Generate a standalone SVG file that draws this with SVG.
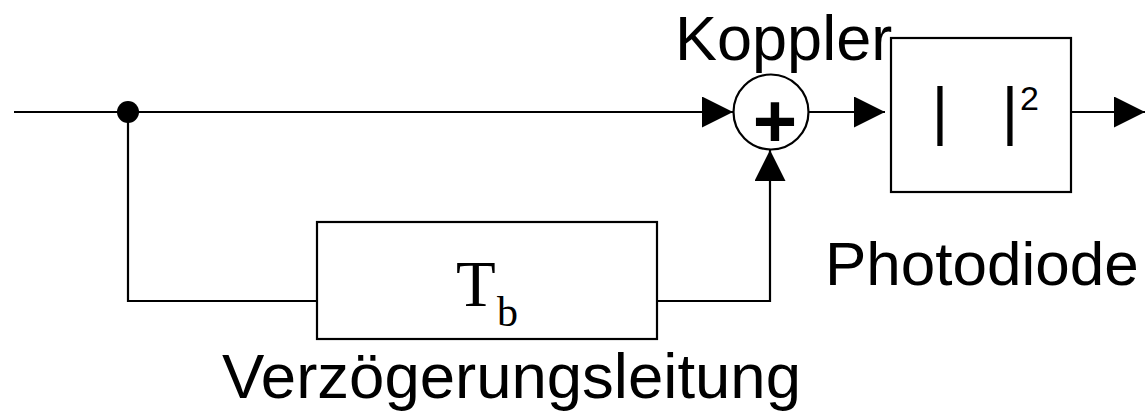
<svg xmlns="http://www.w3.org/2000/svg" width="1146" height="413" viewBox="0 0 1146 413">
  <style>
    .ln { stroke: #000; stroke-width: 2.2; fill: none; }
    .box { stroke: #000; stroke-width: 2.2; fill: #fff; }
    .lbl { font-family: "Liberation Sans", Arial, sans-serif; font-size: 63px; fill: #000; }
    .ser { font-family: "Liberation Serif", "Times New Roman", serif; fill: #000; }
  </style>
  <defs>
    <marker id="arr" markerUnits="userSpaceOnUse" markerWidth="31" markerHeight="31" viewBox="0 0 31 31" refX="31" refY="15.5" orient="auto">
      <path d="M0,0 L31,15.5 L0,31 Z" fill="#000"/>
    </marker>
  </defs>

  <g id="connectors">
    <line class="ln" x1="14" y1="112" x2="733" y2="112" marker-end="url(#arr)"/>
    <polyline class="ln" points="128,112 128,301 317,301"/>
    <polyline class="ln" points="657,301 770,301 770,150" marker-end="url(#arr)"/>
    <line class="ln" x1="808" y1="112" x2="885" y2="112" marker-end="url(#arr)"/>
    <line class="ln" x1="1071" y1="112" x2="1145" y2="112" marker-end="url(#arr)"/>
    <circle cx="128" cy="112" r="11" fill="#000"/>
  </g>

  <g id="koppler">
    <circle cx="771" cy="112" r="37.5" class="box"/>
    <text x="775" y="147" text-anchor="middle" style="font-family:'Liberation Sans',Arial,sans-serif;font-weight:bold;font-size:76px">+</text>
    <text class="lbl" x="675" y="60" style="font-size:63px">Koppler</text>
  </g>

  <g id="photodiode">
    <rect class="box" x="891" y="38" width="180" height="154"/>
    <text class="lbl" x="940" y="133" text-anchor="middle" style="font-size:65px">|</text>
    <text class="lbl" x="1010" y="133" text-anchor="middle" style="font-size:65px">|</text>
    <text class="lbl" x="1020" y="110" style="font-size:34px">2</text>
    <text class="lbl" x="825" y="285" style="font-size:62px">Photodiode</text>
  </g>

  <g id="verzoegerung">
    <rect class="box" x="317" y="222" width="340" height="117"/>
    <text class="ser" x="456" y="306" style="font-size:65px">T</text>
    <text class="ser" x="497" y="326" style="font-size:42px">b</text>
    <text class="lbl" x="222" y="398" style="font-size:63.5px">Verzögerungsleitung</text>
  </g>
</svg>
